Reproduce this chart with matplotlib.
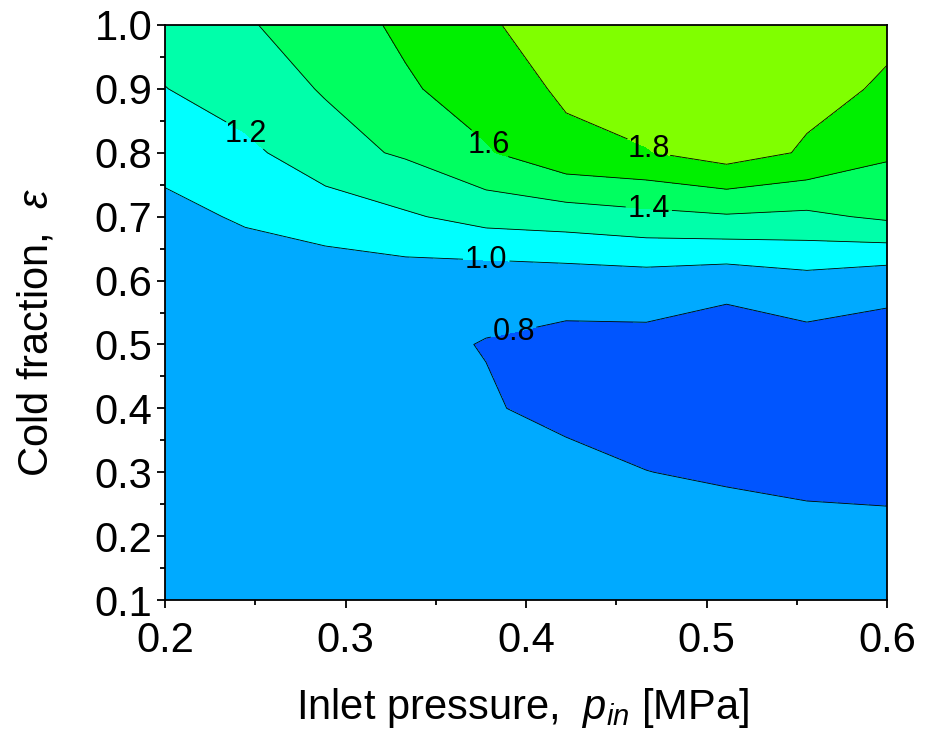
import numpy as np
import matplotlib
matplotlib.use("Agg")
import matplotlib.pyplot as plt
from matplotlib.ticker import MultipleLocator, FormatStrFormatter

plt.rcParams['font.family'] = ['Liberation Sans', 'DejaVu Sans']
plt.rcParams['mathtext.fontset'] = 'custom'
plt.rcParams['mathtext.rm'] = 'Liberation Sans'
plt.rcParams['mathtext.it'] = 'Liberation Sans:italic'

# Inlet pressure p_in [MPa] (grid columns)
p_in = [0.2, 0.2444, 0.2889, 0.3333, 0.3778, 0.4222, 0.4667, 0.5111, 0.5556, 0.6]
# Cold fraction epsilon (grid rows)
eps = [0.1, 0.2, 0.3, 0.4, 0.5, 0.6, 0.7, 0.8, 0.9, 1.0]

# Contoured quantity, one row per cold fraction (values along p_in)
row_e01 = [0.90, 0.90, 0.90, 0.89, 0.88, 0.90, 0.88, 0.88, 0.88, 0.87]
row_e02 = [0.90, 0.90, 0.90, 0.88, 0.87, 0.89, 0.86, 0.867, 0.861, 0.853]
row_e03 = [0.90, 0.90, 0.89, 0.87, 0.85, 0.873, 0.802, 0.78, 0.75, 0.74]
row_e04 = [0.91, 0.90, 0.88, 0.86, 0.821, 0.74, 0.74, 0.70, 0.72, 0.72]
row_e05 = [0.92, 0.91, 0.88, 0.845, 0.792, 0.747, 0.742, 0.686, 0.729, 0.7165]
row_e06 = [0.94, 0.95, 0.906, 0.897, 0.873, 0.89, 0.909, 0.867, 0.932, 0.863]
row_e07 = [0.975, 1.01, 1.08, 1.175, 1.27, 1.298, 1.344, 1.38, 1.358, 1.434]
row_e08 = [1.03, 1.15, 1.33, 1.425, 1.58, 1.75, 1.79, 1.892, 1.778, 1.627]
row_e09 = [1.195, 1.31, 1.414, 1.573, 1.70, 1.83, 1.90, 1.95, 1.851, 1.78]
row_e10 = [1.30, 1.38, 1.50, 1.64, 1.77, 1.92, 1.95, 2.00, 1.90, 1.834]

levels = [0.8, 1.0, 1.2, 1.4, 1.6, 1.8]
fill_colors = ['#0055FF', '#00AAFF', '#00FFFF', '#00FFAA', '#00FF60', '#00F000', '#80FF00']

# contour label anchor points (p_in, eps)
label_pos = [(0.2443, 0.828), (0.3784, 0.809), (0.468, 0.807),
             (0.468, 0.710), (0.378, 0.635), (0.392, 0.534)]

Z = np.array([row_e01, row_e02, row_e03, row_e04, row_e05,
              row_e06, row_e07, row_e08, row_e09, row_e10])
X, Y = np.meshgrid(p_in, eps)

fig = plt.figure(figsize=(9.26, 7.45), dpi=100)
ax = fig.add_axes([165/926, 1-600/745, (887-165)/926, (600-25)/745])

fill_levels = [Z.min() - 0.1] + levels + [Z.max() + 0.1]
ax.contourf(X, Y, Z, levels=fill_levels, colors=fill_colors)
cs = ax.contour(X, Y, Z, levels=levels, colors='black', linewidths=0.6)
texts = ax.clabel(cs, levels=levels, manual=label_pos, inline=True, fmt='%.1f',
                  fontsize=22, colors='black', inline_spacing=2)
for t in texts:
    t.set_rotation(0)

ax.set_xlim(0.2, 0.6)
ax.set_ylim(0.1, 1.0)
ax.xaxis.set_major_locator(MultipleLocator(0.1))
ax.xaxis.set_minor_locator(MultipleLocator(0.05))
ax.yaxis.set_major_locator(MultipleLocator(0.1))
ax.yaxis.set_minor_locator(MultipleLocator(0.05))
ax.tick_params(which='both', direction='out', top=False, right=False, width=1.3)
ax.tick_params(which='major', length=6, labelsize=30)
ax.tick_params(which='minor', length=3.5)
ax.tick_params(axis='x', which='major', pad=9)
ax.tick_params(axis='y', which='major', pad=3)
ax.xaxis.set_major_formatter(FormatStrFormatter('%.1f'))
ax.yaxis.set_major_formatter(FormatStrFormatter('%.1f'))
for s in ax.spines.values():
    s.set_linewidth(1.3)

ax.set_xlabel(r'Inlet pressure,  $p_{in}$ [MPa]', fontsize=30)
ax.xaxis.set_label_coords(0.495, -0.15)
ax.set_ylabel(r'Cold fraction,  $\varepsilon$', fontsize=30)
ax.yaxis.set_label_coords(-0.15, 0.466)

fig.savefig('out.png', dpi=100)
